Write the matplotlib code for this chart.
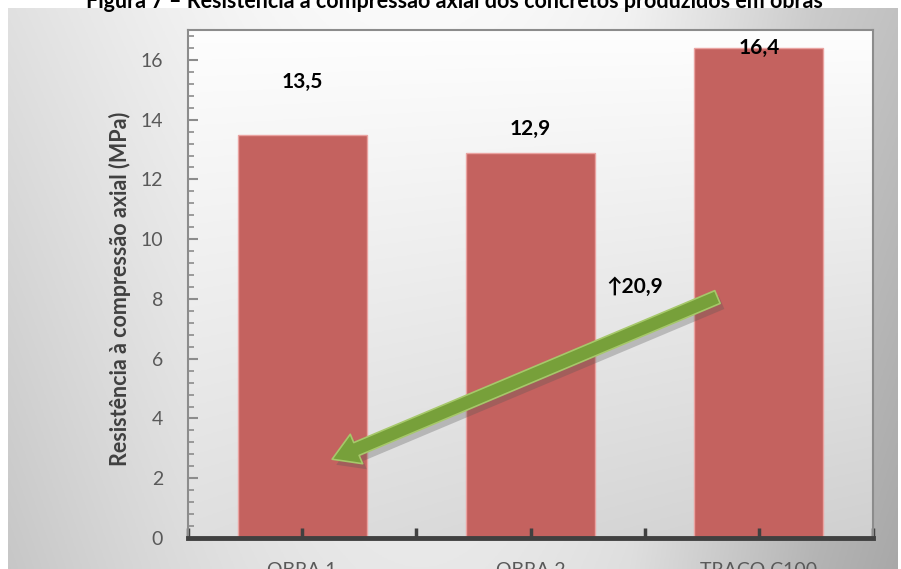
import numpy as np
from matplotlib import pyplot as plt
from matplotlib.patches import FancyArrowPatch
import matplotlib.patheffects as pe

# dados do gráfico
categorias = ['OBRA 1', 'OBRA 2', 'TRACO C100']
resistencia = [13.5, 12.9, 16.4]
rotulos = ['13,5', '12,9', '16,4']
rotulo_y = [15.25, 13.7, 16.4]  # altura dos rótulos (MPa)
titulo = 'Figura 7 – Resistência à compressão axial dos concretos produzidos em obras'
ylabel = 'Resistência à compressão axial (MPa)'
ganho = '↑20,9'

plt.rcParams['font.family'] = ['Lato', 'DejaVu Sans']

fig = plt.figure(figsize=(9.01, 5.69), dpi=100, facecolor='white')

# fundo da área do gráfico (gradiente cinza)
bg = fig.add_axes([8 / 901, 0, 890 / 901, 561 / 569])
bg.set_axis_off()
xx, yy = np.meshgrid(np.linspace(0, 1, 300), np.linspace(0, 1, 200))
horiz = 0.88 + 0.10 * np.sin(np.pi * np.clip(xx * 1.1, 0, 1)) - 0.12 * np.clip((xx - 0.7) / 0.3, 0, 1)
val = horiz - 0.10 * yy * (1 - 0.3 * np.sin(np.pi * xx))
val = np.clip(val, 0, 1)
bg.imshow(np.dstack([val, val, val]), aspect='auto', extent=[0, 1, 1, 0])
bg.set_xlim(0, 1)
bg.set_ylim(1, 0)

# área de plotagem
ax = fig.add_axes([188 / 901, 31 / 569, 685 / 901, 508 / 569])
ax.set_xlim(-0.5, 2.5)
ax.set_ylim(0, 17)
px, py = np.meshgrid(np.linspace(0, 1, 300), np.linspace(0, 1, 200))
pv = 0.995 - 0.12 * py - 0.06 * px * py
ax.imshow(np.dstack([pv, pv, pv]), aspect='auto', extent=[-0.5, 2.5, 0, 17], zorder=0)

x = np.arange(len(categorias))
ax.bar(x, resistencia, width=0.565, color='#c4625f', edgecolor='#eaa3a1', linewidth=1, zorder=1)

for xi, txt, yl in zip(x, rotulos, rotulo_y):
    ax.text(xi, yl, txt, ha='center', va='center', fontsize=15, fontweight='bold', color='black', zorder=5)

# seta verde
seta = FancyArrowPatch((1.83, 8.1), (0.12, 2.6),
                       arrowstyle='simple,head_length=1.9,head_width=2.3,tail_width=1.0',
                       mutation_scale=10, facecolor='#77a03a', edgecolor='#a6c86a', linewidth=1.2,
                       zorder=4,
                       path_effects=[pe.SimplePatchShadow(offset=(3, -4), shadow_rgbFace='#555555', alpha=0.3),
                                     pe.Normal()])
ax.add_patch(seta)
ax.text(1.455, 8.4, ganho, ha='center', va='center', fontsize=15, fontweight='bold', color='black', zorder=5)

# eixos
for s in ['top', 'right', 'left']:
    ax.spines[s].set_color('#8c8c8c')
    ax.spines[s].set_linewidth(1.5)
ax.spines['bottom'].set_color('#404040')
ax.spines['bottom'].set_linewidth(3.5)

ax.set_yticks(np.arange(0, 17, 2))
ax.set_yticks(np.arange(0, 17, 0.4), minor=True)
ax.tick_params(axis='y', which='major', direction='in', length=7, width=1.5, color='#8c8c8c',
               labelsize=14, labelcolor='#595959', pad=18)
ax.tick_params(axis='y', which='minor', direction='in', length=4, width=1.2, color='#8c8c8c')

ax.set_xticks(x)
ax.set_xticklabels(categorias)
ax.xaxis.remove_overlapping_locs = False
ax.set_xticks(np.arange(-0.5, 2.6, 0.5), minor=True)
ax.tick_params(axis='x', which='minor', direction='in', length=7, width=2.5, color='#404040')
ax.tick_params(axis='x', which='major', length=0, labelsize=14, labelcolor='#595959', pad=17)

ax.set_ylabel(ylabel, fontsize=15.5, fontweight='bold', color='#404040')
ax.yaxis.set_label_coords(-0.083, 0.49)

fig.text(0.504, 1 - 7.5 / 569, titulo, ha='center', va='baseline', fontsize=15.5, fontweight='bold', color='black')

plt.savefig('out.png', dpi=100)
